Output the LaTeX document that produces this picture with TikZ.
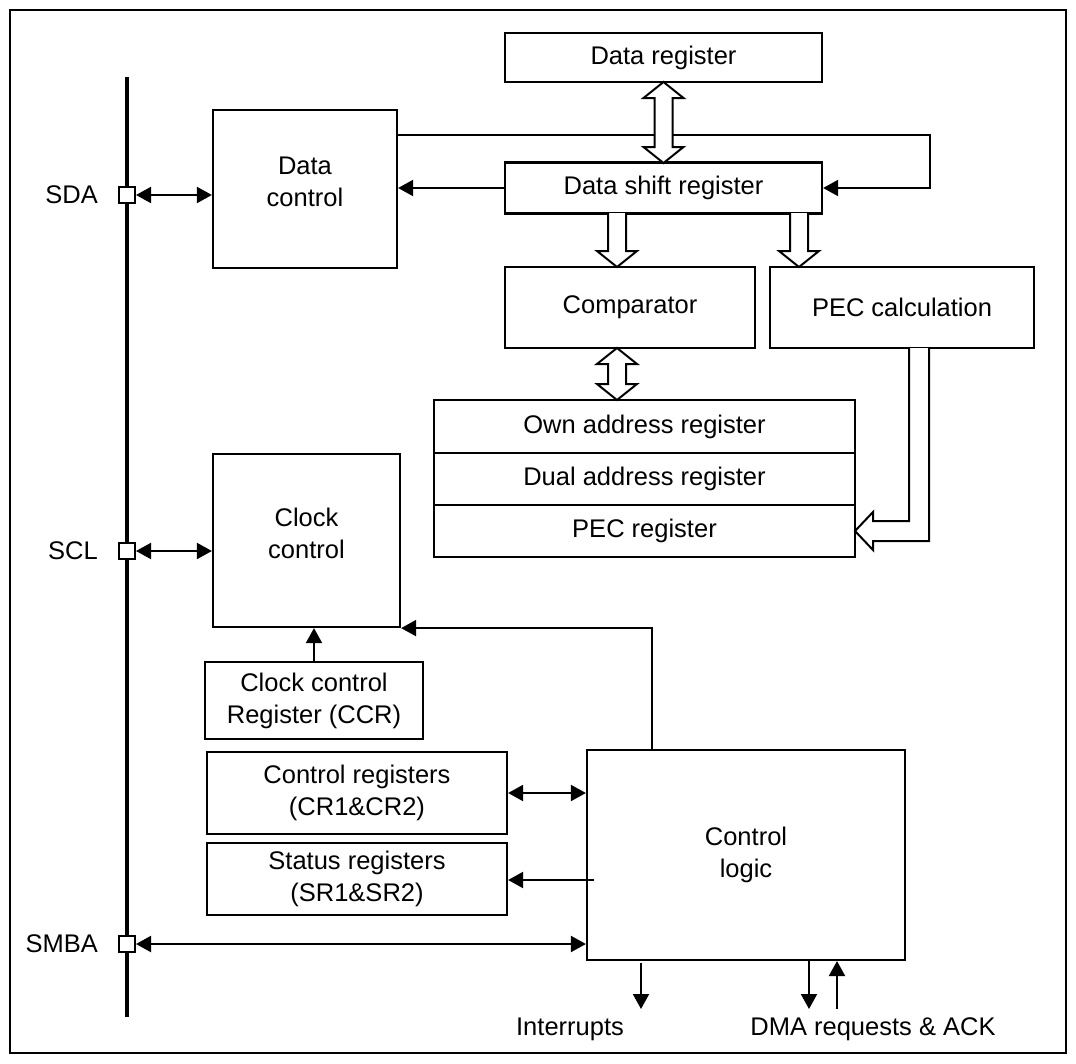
\documentclass[tikz,border=0pt]{standalone}
\usepackage{fontspec}
\setmainfont{Liberation Sans}
\usetikzlibrary{arrows.meta}
\newcommand\hollowdbl[3]{%
  \draw[hollow] (#1-9,#2+16) -- (#1-20,#2+16) -- (#1,#2) -- (#1+20,#2+16) -- (#1+9,#2+16)
    -- (#1+9,#3-16) -- (#1+20,#3-16) -- (#1,#3) -- (#1-20,#3-16) -- (#1-9,#3-16) -- cycle;}
\newcommand\hollowdown[3]{%
  \draw[hollow] (#1-9,#2) -- (#1-9,#3-16) -- (#1-20,#3-16) -- (#1,#3) -- (#1+20,#3-16) -- (#1+9,#3-16) -- (#1+9,#2);}
\begin{document}
\begin{tikzpicture}[x=1pt,y=-1pt,
  box/.style={draw, line width=2.2pt, inner sep=0pt, align=center, font=\fontsize{25.5}{32}\selectfont},
  lbl/.style={inner sep=0pt, align=center, font=\fontsize{25.5}{32}\selectfont},
  conn/.style={line width=2pt, -{Triangle[length=15pt,width=16pt]}},
  dconn/.style={line width=2pt, {Triangle[length=15pt,width=16pt]}-{Triangle[length=15pt,width=16pt]}},
  hollow/.style={draw, line width=2pt, fill=white, line join=miter},
  pin/.style={draw, line width=2pt, fill=white, minimum size=16pt, inner sep=0pt}]
\useasboundingbox (0,0) rectangle (1076,1063);
\draw[line width=2.6pt] (10,10) rectangle (1066,1053);

% bus
\draw[line width=4.5pt] (127,77) -- (127,1017);
\node[pin] (sda) at (127,195) {};
\node[pin] (scl) at (127,551) {};
\node[pin] (smba) at (127,944) {};
\node[lbl, anchor=east] (sdal) at (98,195) {SDA};
\node[lbl, anchor=east] (scll) at (98,551) {SCL};
\node[lbl, anchor=east] (smbal) at (98,944) {SMBA};

% boxes
\node[box, minimum width=317pt, minimum height=49pt] (dreg) at (663.5,57.5) {Data register};
\node[box, minimum width=317pt, minimum height=51pt] (dshift) at (663.5,188) {Data shift register};
\node[box, minimum width=184pt, minimum height=158pt] (dctl) at (305,189) {};
\node[lbl] (dctlt) at (305,182) {Data\\control};
\node[box, minimum width=250pt, minimum height=81pt] (comp) at (630,307.5) {Comparator};
\node[box, minimum width=264pt, minimum height=81pt] (pecc) at (902,307.5) {PEC calculation};
\node[box, minimum width=421pt, minimum height=53pt] (own) at (644.5,426.5) {Own address register};
\node[box, minimum width=421pt, minimum height=52pt] (dual) at (644.5,479) {Dual address register};
\node[box, minimum width=421pt, minimum height=52pt] (pecr) at (644.5,531) {PEC register};
\node[box, minimum width=187pt, minimum height=173pt] (clk) at (306.5,540.5) {};
\node[lbl] (clkt) at (306.5,533) {Clock\\control};
\node[box, minimum width=218pt, minimum height=77pt] (ccr) at (314,700.5) {Clock control\\Register (CCR)};
\node[box, minimum width=300pt, minimum height=82pt] (creg) at (357,793) {Control registers\\(CR1\&CR2)};
\node[box, minimum width=300pt, minimum height=72pt] (sreg) at (357,879) {Status registers\\(SR1\&SR2)};
\node[box, minimum width=318pt, minimum height=210pt] (logic) at (746,855) {Control\\logic};
\node[lbl] (intl) at (570,1029) {Interrupts};
\node[lbl] (dmal) at (873,1029) {DMA requests \& ACK};

% connectors
\coordinate (fb) at (930,135);
\draw[conn] (dctl.east |- fb) -- (fb) |- (dshift.east);
\draw[conn] (dshift.west) -- (dshift.west -| dctl.east);
\draw[dconn] (sda.east) -- (sda.east -| dctl.west);
\draw[dconn] (scl.east) -- (scl.east -| clk.west);
\draw[conn] (ccr.north) -- (ccr.north |- clk.south);
\coordinate (lt) at (652,750);
\draw[conn] (lt) |- (clk.south east);
\draw[dconn] (creg.east) -- (creg.east -| logic.west);
\coordinate (st) at (594,880);
\draw[conn] (st) -- (st -| sreg.east);
\draw[dconn] (smba.east) -- (smba.east -| logic.west);
\coordinate (i0) at (641,963);
\coordinate (i1) at (641,1009);
\draw[conn] (i0) -- (i1);
\coordinate (d0) at (809,961);
\coordinate (d1) at (809,1009);
\draw[conn] (d0) -- (d1);
\coordinate (a0) at (837,1009);
\coordinate (a1) at (837,961);
\draw[conn] (a0) -- (a1);

% hollow bus arrows
\hollowdbl{663.5}{82}{163}
\hollowdown{617}{213}{267}
\hollowdown{799}{213}{267}
\hollowdbl{617}{348}{400}
\draw[hollow] (909,348) -- (909,521) -- (873,521) -- (873,512) -- (855,531)
  -- (873,550) -- (873,541) -- (929,541) -- (929,348);
\end{tikzpicture}
\end{document}
